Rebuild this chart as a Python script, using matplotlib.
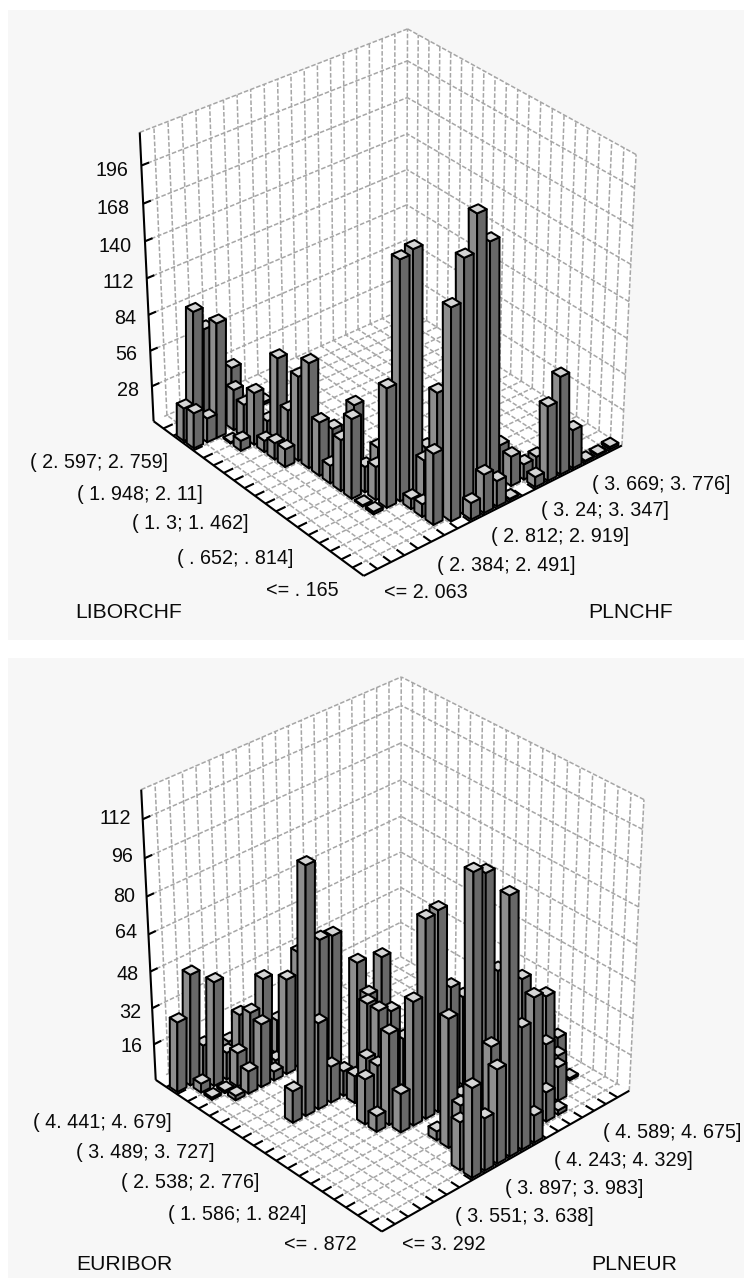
import numpy as np, matplotlib
matplotlib.use('Agg')
import matplotlib.pyplot as plt
from matplotlib.patches import Rectangle
from mpl_toolkits.mplot3d.art3d import Poly3DCollection
from mpl_toolkits.mplot3d import proj3d

plt.rcParams['font.family'] = ['Liberation Sans', 'DejaVu Sans']
W, H = 744, 1278

# ---- data: chart 1 (LIBORCHF x PLNCHF) ----
C1_PLN = [8,9,10,11,13,14,15,16,17,18,19,6,7,8,9,10,12,13,14,12,6,6,7,8,8,5,6,7,5,6,5,4,4,4,5,4,4,5,4,4,4,3,3,3,2,2,3,4,4,4,6,3,3,3.6,1.7,1,0,0,0.7,1.5]
C1_LIB = [0,0,0,0,0,0,0,0,0,0,0,1,0.6,0.6,0.6,0.6,1,1,1,2,2,3,3,3,4,4,4,4,5,6,6,4,5,6,7,7,8,9,9,10,11,11,12,13,14,15,14,12,13,14,17,15,16,17,16,16,16,17,17,17]
C1_N   = [13,30,20,1,8,58,76,30,1,1,2,55,161,192,219,195,23,12,13,26,10,8,33,80,32,92,182,185,26,30,20,2,1,62,62,40,14,32,42,82,66,14,13,9,8,1,41,34,69,14,2,26,32,41,90,19,28,26,98,81]
C1_Z_TICKS = [28,56,84,112,140,168,196]
C1_Y_LABELS = ['( 2. 597; 2. 759]','( 1. 948; 2. 11]','( 1. 3; 1. 462]','( . 652; . 814]','<= . 165']
C1_X_LABELS = ['<= 2. 063','( 2. 384; 2. 491]','( 2. 812; 2. 919]','( 3. 24; 3. 347]','( 3. 669; 3. 776]']

# ---- data: chart 2 (EURIBOR x PLNEUR) ----
C2_PLN = [0,1,1,2,2,1,2,2,3,3,3,4,4,4,4,5,6,5,7,6,7,4,3,5,6,7,7,6,7,9,6,6,7,11,7,7,8,9,8,9,10,7,8,9,10,8,8,12,13,7,8,9,7,10,11,10,9.5,8,9,12,11,14,13,12,14,16,15,17,17,19,16,17,15,18]
C2_EUR = [18,18,17,18,17,16,16,15,15,16,17,18,17,16,15,16,16,15,17,15,15,11,11,11,11,11,10,12,12,12,8,7,8,12,7,9,10,11,9,9,9,6,6,6,6,4,3,7,7,1,2,3,0,3,3,0,1,0,0,3,0,3,1,0,1,3,2,5,4,5,2,3,1,3]
C2_N   = [31,49,4,15,46,1,1,2,10,15,12,11,26,30,28,42,3,4,15,42,51,107,14,38,16,11,12,68,67,50,20,7,23,47,40,23,41,39,41,38,23,17,54,86,87,4,56,46,39,21,22,20,39,111,108,110,46,23,41,65,53,56,57,12,13,43,28,15,27,10,15,14,2,1]
C2_Z_TICKS = [16,32,48,64,80,96,112]
C2_Y_LABELS = ['( 4. 441; 4. 679]','( 3. 489; 3. 727]','( 2. 538; 2. 776]','( 1. 586; 1. 824]','<= . 872']
C2_X_LABELS = ['<= 3. 292','( 3. 551; 3. 638]','( 3. 897; 3. 983]','( 4. 243; 4. 329]','( 4. 589; 4. 675]']

N_BINS = 20
GRID = dict(color='#a6a6a6', lw=1.1, ls=(0, (3.0, 1.3)), zorder=2)
TOP_C, LEFT_C, RIGHT_C = '#d6d6d6', '#8e8e8e', '#686868'
BAR_W = 0.7

fig = plt.figure(figsize=(W/100, H/100), dpi=100, facecolor='white')

def px_text(x, y, s, ha='left', size=14.2):
    fig.text(x/W, 1-y/H, s, ha=ha, va='center', fontsize=size, color='#0a0a0a')

def panel(top, bottom):
    fig.patches.append(Rectangle((8/W, 1-bottom/H), (W-8)/W, (bottom-top)/H, transform=fig.transFigure,
                                 facecolor='#f7f7f7', edgecolor='none', zorder=-5))

def screen_x(M, x, y, z):
    return proj3d.proj_transform(np.array([x]), np.array([y]), np.array([z]), M)[0][0]

def draw_bar(ax, M, i, j, c):
    # the original draws bars upright on the page although the box is in perspective:
    # slide the top so that it stays above its base
    cx, cy = i+0.5, j+0.5
    xb = screen_x(M, cx, cy, 0)
    x0 = screen_x(M, cx, cy, c)
    x1 = screen_x(M, cx+1, cy-1, c)
    t = (xb-x0)/(x1-x0)
    w = BAR_W/2
    a0, a1, b0, b1 = cx-w, cx+w, cy-w, cy+w
    ta0, ta1, tb0, tb1 = a0+t, a1+t, b0-t, b1-t
    top = [(ta0,tb0,c),(ta1,tb0,c),(ta1,tb1,c),(ta0,tb1,c)]
    left = [(a0,b0,0),(a0,b1,0),(ta0,tb1,c),(ta0,tb0,c)]
    right = [(a0,b0,0),(a1,b0,0),(ta1,tb0,c),(ta0,tb0,c)]
    col = Poly3DCollection([left, right, top], facecolors=[LEFT_C, RIGHT_C, TOP_C],
                           edgecolors='black', linewidths=1.45, zsort='min')
    ax.add_collection3d(col)
    col.set_zorder(100-(i+j))

def cube(xs, ys, ns, zmax, zticks, view, fit):
    elev, azim, focal = view
    s, tx, ty = fit
    ax = fig.add_axes([0, 0, 1, 1], projection='3d', computed_zorder=False)
    ax.set_proj_type('persp', focal_length=focal)
    ax.view_init(elev=elev, azim=azim)
    ax.set_box_aspect((1, 1, 1))
    x0, x1 = ax.viewLim.intervalx
    y0, y1 = ax.viewLim.intervaly
    ax.set_position([(tx+s*x0)/W, (ty+s*y0)/H, s*(x1-x0)/W, s*(y1-y0)/H])
    ax.set_xlim(0, N_BINS); ax.set_ylim(0, N_BINS); ax.set_zlim(0, zmax)
    ax.set_axis_off()
    ax.patch.set_visible(False)
    n = N_BINS
    walls = [[(0,0,0),(n,0,0),(n,n,0),(0,n,0)],
             [(n,0,0),(n,n,0),(n,n,zmax),(n,0,zmax)],
             [(0,n,0),(n,n,0),(n,n,zmax),(0,n,zmax)]]
    ax.add_collection3d(Poly3DCollection(walls, facecolor='white', edgecolor='none', zorder=1))
    for k in range(1, n+1):
        ax.plot([k,k],[n,n],[0,zmax], **GRID)
        ax.plot([n,n],[n-k,n-k],[0,zmax], **GRID)
    for z in list(zticks)+[zmax]:
        ax.plot([0,n],[n,n],[z,z], **GRID)
        ax.plot([n,n],[0,n],[z,z], **GRID)
    for k in range(1, n+1):
        ax.plot([k,k],[0.8,n],[0,0], **GRID)
        ax.plot([0.8,n],[k,k],[0,0], **GRID)
    blk = dict(color='black', lw=1.5, zorder=3, solid_capstyle='butt')
    ax.plot([0,n],[0,0],[0,0], **blk)
    ax.plot([0,0],[0,n],[0,0], **blk)
    ax.plot([0,0],[n,n],[0,zmax], **blk)
    for k in range(1, n):
        ax.plot([k,k],[0,0.7],[0,0], **blk)
        ax.plot([0,0.7],[k,k],[0,0], **blk)
    for z in zticks:
        ax.plot([0,0.55],[n,n],[z,z], **blk)
    M = ax.get_proj()
    for i, j, c in zip(xs, ys, ns):
        draw_bar(ax, M, i, j, c)
    return ax

panel(10, 640)
panel(658, H)
cube(C1_PLN, C1_LIB, C1_N, 220, C1_Z_TICKS, (32.17, -129.81, 1.009), (3109.89, 386.41, 985.45))
cube(C2_PLN, C2_EUR, C2_N, 124, C2_Z_TICKS, (32.69, -132.73, 0.994), (3136.70, 391.90, 333.72))

for t, x, y in zip(C1_Z_TICKS[::-1], [128,130,132,134,136,137,139], [170,208,246,283,319,355,391]):
    px_text(x, y, str(t), 'right')
for t, x, y in zip(C2_Z_TICKS[::-1], [131,133,135,137,139,141,142], [818,857,897,933,974,1012,1047]):
    px_text(x, y, str(t), 'right')
for t, x, y in zip(C1_Y_LABELS, [30,77,132,177,266], [463,494,524,559,590]):
    px_text(x, y, t)
for t, x, y in zip(C1_X_LABELS, [384,437,491,541,592], [592,565,537,510,484]):
    px_text(x, y, t)
for t, x, y in zip(C2_Y_LABELS, [33,76,121,168,284], [1123,1153,1183,1214,1245]):
    px_text(x, y, t)
for t, x, y in zip(C2_X_LABELS, [402,455,505,554,603], [1245,1217,1189,1160,1132]):
    px_text(x, y, t)
px_text(75, 613, 'LIBORCHF', size=15.2); px_text(588, 613, 'PLNCHF', size=15.2)
px_text(76, 1265, 'EURIBOR', size=15.2); px_text(591, 1265, 'PLNEUR', size=15.2)

fig.savefig('out.png', dpi=100)
